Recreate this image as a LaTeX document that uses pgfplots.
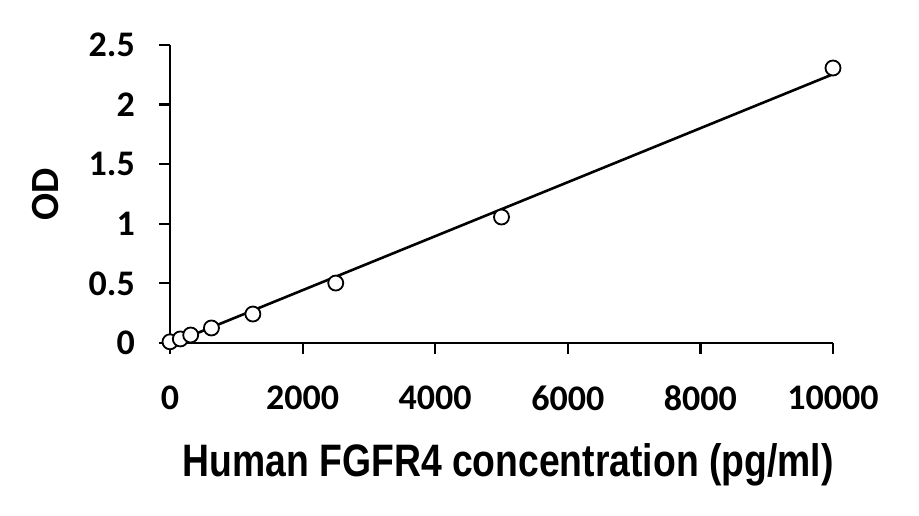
\documentclass[border=0pt]{standalone}
\usepackage{fontspec}
\setmainfont{Carlito}
\newfontfamily\narrowfont[FakeStretch=0.82]{Liberation Sans}
\usepackage{pgfplots}
\pgfplotsset{compat=1.18}
\begin{document}
\begin{tikzpicture}
\path[use as bounding box] (0,0) rectangle (919pt,516pt);
\begin{axis}[
  at={(170pt,173pt)}, anchor=south west,
  scale only axis, width=663pt, height=298pt,
  xmin=0, xmax=10000, ymin=0, ymax=2.5,
  axis lines=left, axis line style={-, line width=2.2pt},
  clip=false,
  scaled ticks=false,
  xtick={0,2000,4000,6000,8000,10000},
  ytick={0,0.5,1,1.5,2,2.5},
  tick align=outside, major tick length=11pt,
  tick style={line width=2.2pt, black},
  /pgf/number format/1000 sep={},
  /pgf/number format/assume math mode=true,
  tick label style={font=\bfseries\fontsize{36}{36}\selectfont, inner sep=0pt},
  xticklabel style={anchor=center, yshift=-44pt},
  yticklabel style={anchor=east, xshift=-24pt},
  xlabel={Human FGFR4 concentration (pg/ml)},
  ylabel={OD},
  xlabel style={font=\narrowfont\bfseries\fontsize{45.5}{45.5}\selectfont, at={(axis description cs:0.51,-0.409)}, anchor=center},
  ylabel style={font=\bfseries\fontsize{40}{40}\selectfont, at={(axis description cs:-0.187,0.5)}, anchor=center},
]
\addplot[only marks, mark=*, mark size=7.5pt, mark options={fill=white, draw=black, line width=1.8pt}] coordinates {
(0,0.01) (156,0.034) (312,0.067) (625,0.126) (1250,0.243) (2500,0.503) (5000,1.057) (10000,2.307)
};
\addplot[black, line width=2.6pt, no marks] coordinates {(0,-0.01) (10000,2.255)};
\end{axis}
\end{tikzpicture}
\end{document}
